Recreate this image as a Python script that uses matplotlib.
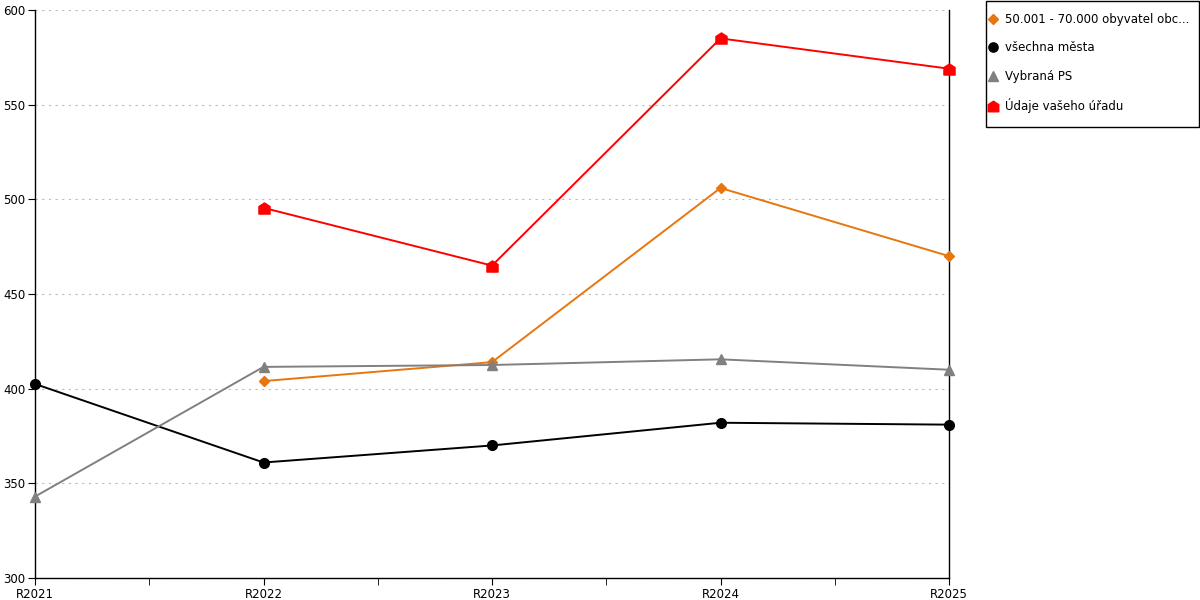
import matplotlib.pyplot as plt
from matplotlib.path import Path
from matplotlib.lines import Line2D
from matplotlib.patches import Rectangle
import numpy as np

years = ["R2021", "R2022", "R2023", "R2024", "R2025"]

orange_vals = [None, 404, 414, 506, 470]
black_vals = [402.5, 361, 370, 382, 381]
gray_vals = [343, 411.5, 412.5, 415.5, 410]
red_vals = [None, 495.5, 465, 585, 569]

labels = ["50.001 - 70.000 obyvatel obc...", "všechna města", "Vybraná PS", "Údaje vašeho úřadu"]

# house shaped marker for the red series
house = Path([(-1, -1), (1, -1), (1, 0.35), (0, 1), (-1, 0.35), (-1, -1)],
             [Path.MOVETO, Path.LINETO, Path.LINETO, Path.LINETO, Path.LINETO, Path.CLOSEPOLY])

series = [
    (orange_vals, "#e8760f", "D", 5),
    (black_vals, "#000000", "o", 7),
    (gray_vals, "#808080", "^", 7),
    (red_vals, "#ff0000", house, 8),
]

fig = plt.figure(figsize=(12, 6), dpi=100)
ax = fig.add_axes([35 / 1200, 22 / 600, 914 / 1200, 568 / 600])

x = np.arange(len(years))
for vals, col, mk, ms in series:
    xs = [i for i, v in enumerate(vals) if v is not None]
    ys = [v for v in vals if v is not None]
    ax.plot(xs, ys, color=col, lw=1.4, marker=mk, markersize=ms, clip_on=False, zorder=3)

ax.set_xlim(0, 4)
ax.set_ylim(300, 600)
ax.set_xticks(x)
ax.set_xticklabels(years)
ax.set_xticks([0.5, 1.5, 2.5, 3.5], minor=True)
ax.set_yticks(range(300, 601, 50))
ax.tick_params(axis="both", labelsize=8.5, length=5, color="black", pad=2)
ax.tick_params(axis="x", which="minor", length=5)
ax.yaxis.grid(True, linestyle=(0, (2, 4)), color="#bbbbbb", lw=0.8)
ax.set_axisbelow(True)
ax.spines["top"].set_visible(False)
for s in ["left", "bottom", "right"]:
    ax.spines[s].set_color("black")
    ax.spines[s].set_linewidth(1)

# legend box drawn separately so its size matches
fig.patches.append(Rectangle((985.5 / 1200, 1 - 127 / 600), 213 / 1200, 126.5 / 600,
                             transform=fig.transFigure, fill=False, edgecolor="black", lw=1))

handles = [Line2D([], [], ls="none", color=c, marker=m, markersize=ms * 0.95) for _, c, m, ms in series]
fig.legend(handles, labels, loc="upper left", bbox_to_anchor=(988 / 1200, 1 - 13 / 600),
           fontsize=8.5, frameon=False, labelspacing=1.3, handlelength=0.8,
           handletextpad=0.6, borderpad=0, borderaxespad=0)

fig.savefig("out.png", dpi=100)
